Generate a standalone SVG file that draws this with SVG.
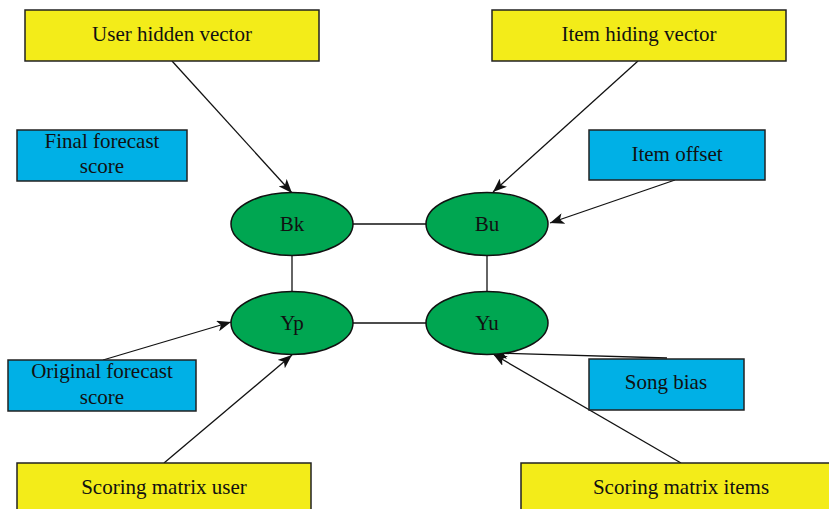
<svg xmlns="http://www.w3.org/2000/svg" width="829" height="509" viewBox="0 0 829 509">
<style>
.y{fill:#F3EC19;stroke:#222;stroke-width:1.5}
.b{fill:#00B0E6;stroke:#222;stroke-width:1.5}
.n{fill:#00A651;stroke:#111;stroke-width:1.5}
text{font-family:"Liberation Serif",serif;font-size:21px;fill:#111;text-anchor:middle}
.c line{stroke:#111;stroke-width:1.3}
</style>
<defs>
<marker id="ah" viewBox="0 0 14 11" refX="14" refY="5.5" markerWidth="14" markerHeight="11" markerUnits="userSpaceOnUse" orient="auto">
<path d="M0,0 L14,5.5 L0,11 L3.5,5.5 Z" fill="#111"/>
</marker>
</defs>
<rect width="829" height="509" fill="#fff"/>
<g class="c">
<line x1="353" y1="224" x2="426" y2="224"/>
<line x1="292" y1="256" x2="292" y2="291"/>
<line x1="487" y1="256" x2="487" y2="291"/>
<line x1="353" y1="323" x2="426" y2="323"/>
<line x1="172" y1="61" x2="292" y2="193" marker-end="url(#ah)"/>
<line x1="638" y1="61" x2="493" y2="192" marker-end="url(#ah)"/>
<line x1="675" y1="180" x2="550" y2="223" marker-end="url(#ah)"/>
<line x1="103" y1="360" x2="231" y2="322" marker-end="url(#ah)"/>
<line x1="164" y1="463" x2="292" y2="355" marker-end="url(#ah)"/>
<line x1="667" y1="358" x2="493" y2="353" marker-end="url(#ah)"/>
<line x1="681" y1="463" x2="493" y2="354" marker-end="url(#ah)"/>
</g>
<g id="user-hidden-vector"><rect class="y" x="25" y="10" width="294" height="51"/><text x="172" y="41">User hidden vector</text></g>
<g id="item-hiding-vector"><rect class="y" x="492" y="10" width="294" height="51"/><text x="639" y="41">Item hiding vector</text></g>
<g id="final-forecast-score"><rect class="b" x="17" y="130" width="170" height="51"/><text x="102" y="148">Final forecast</text><text x="102" y="173">score</text></g>
<g id="item-offset"><rect class="b" x="589" y="130" width="176" height="50"/><text x="677" y="161">Item offset</text></g>
<g id="original-forecast-score"><rect class="b" x="8" y="360" width="188" height="51"/><text x="102" y="378">Original forecast</text><text x="102" y="404">score</text></g>
<g id="song-bias"><rect class="b" x="589" y="359" width="155" height="51"/><text x="666" y="389">Song bias</text></g>
<g id="scoring-matrix-user"><rect class="y" x="17" y="463" width="294" height="60"/><text x="164" y="494">Scoring matrix user</text></g>
<g id="scoring-matrix-items"><rect class="y" x="521" y="463" width="320" height="60"/><text x="681" y="494">Scoring matrix items</text></g>
<g id="Bk"><ellipse class="n" cx="292" cy="224" rx="61" ry="31.5"/><text x="292" y="231">Bk</text></g>
<g id="Bu"><ellipse class="n" cx="487" cy="224" rx="61" ry="31.5"/><text x="487" y="231">Bu</text></g>
<g id="Yp"><ellipse class="n" cx="292" cy="323" rx="61" ry="31.5"/><text x="292" y="330">Yp</text></g>
<g id="Yu"><ellipse class="n" cx="487" cy="323" rx="61" ry="31.5"/><text x="487" y="330">Yu</text></g>
</svg>
